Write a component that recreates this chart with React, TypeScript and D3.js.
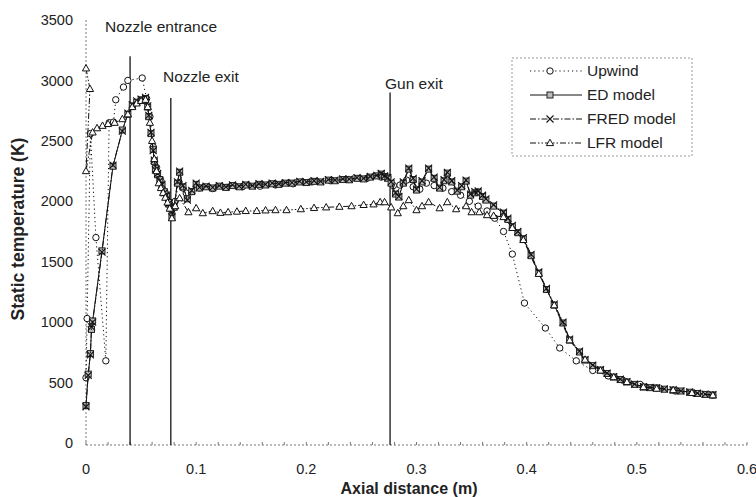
import React from 'react';
import * as d3 from 'd3';

// values: [axial distance (m), static temperature (K)]
const upwind: [number, number][] = [
  [0, 540], [0.001, 1030], [0.004, 2560], [0.009, 1700], [0.018, 680], [0.021, 2650],
  [0.025, 2655], [0.027, 2840], [0.034, 2945], [0.038, 3000], [0.051, 3020], [0.055, 2850],
  [0.058, 2700], [0.061, 2450], [0.064, 2280], [0.068, 2170], [0.072, 2070], [0.076, 1960],
  [0.078, 1930], [0.081, 2000], [0.084, 2150], [0.088, 2110], [0.091, 2068], [0.096, 2080],
  [0.103, 2110], [0.115, 2105], [0.128, 2115], [0.142, 2120], [0.158, 2125], [0.172, 2135],
  [0.188, 2145], [0.205, 2160], [0.222, 2170], [0.238, 2180], [0.255, 2190], [0.268, 2200],
  [0.274, 2200], [0.279, 2130], [0.285, 2134], [0.291, 2175], [0.297, 2120], [0.303, 2100],
  [0.309, 2150], [0.316, 2130], [0.324, 2109], [0.332, 2080], [0.34, 2050], [0.348, 2000],
  [0.356, 1960], [0.364, 1920], [0.371, 1860], [0.379, 1750], [0.387, 1563], [0.398, 1158],
  [0.417, 951], [0.43, 786], [0.445, 680], [0.46, 600], [0.474, 555], [0.487, 521],
  [0.503, 485], [0.518, 455], [0.535, 430], [0.552, 412], [0.569, 397],
];

const edModel: [number, number][] = [
  [0, 310], [0.002, 570], [0.004, 740], [0.005, 940], [0.006, 1010], [0.0145, 1590],
  [0.0245, 2290], [0.033, 2590], [0.038, 2720], [0.042, 2790], [0.046, 2820], [0.05, 2840],
  [0.054, 2850], [0.056, 2780], [0.057, 2700], [0.059, 2560], [0.061, 2430], [0.062, 2330],
  [0.063, 2270], [0.065, 2220], [0.067, 2180], [0.069, 2130], [0.071, 2080], [0.073, 2040],
  [0.075, 1990], [0.077, 1940], [0.078, 1880], [0.08, 1950], [0.083, 2150], [0.085, 2240],
  [0.088, 2120], [0.092, 2020], [0.096, 2080], [0.1, 2140], [0.103, 2110], [0.109, 2120],
  [0.115, 2110], [0.121, 2125], [0.127, 2115], [0.133, 2130], [0.139, 2120], [0.145, 2135],
  [0.151, 2125], [0.157, 2140], [0.163, 2135], [0.169, 2145], [0.175, 2140], [0.181, 2150],
  [0.187, 2150], [0.194, 2160], [0.2, 2155], [0.207, 2165], [0.213, 2160], [0.22, 2175],
  [0.226, 2170], [0.233, 2180], [0.239, 2178], [0.246, 2190], [0.252, 2185], [0.258, 2200],
  [0.264, 2210], [0.268, 2225], [0.271, 2205], [0.274, 2190], [0.277, 2150], [0.281, 2060],
  [0.284, 2035], [0.288, 2150], [0.293, 2266], [0.297, 2180], [0.3, 2093], [0.305, 2160],
  [0.311, 2266], [0.316, 2190], [0.321, 2109], [0.325, 2170], [0.328, 2233], [0.332, 2160],
  [0.337, 2084], [0.341, 2120], [0.345, 2167], [0.349, 2051], [0.353, 2070], [0.356, 2076],
  [0.36, 2040], [0.363, 2010], [0.37, 1960], [0.379, 1902], [0.383, 1850], [0.387, 1790],
  [0.392, 1740], [0.397, 1690], [0.404, 1550], [0.411, 1406], [0.418, 1270], [0.425, 1141],
  [0.433, 993], [0.439, 852], [0.448, 753], [0.453, 686], [0.46, 640], [0.467, 604],
  [0.473, 575], [0.479, 546], [0.485, 525], [0.491, 505], [0.498, 485], [0.506, 463],
  [0.512, 458], [0.518, 455], [0.525, 445], [0.533, 438], [0.54, 430], [0.548, 420],
  [0.555, 410], [0.562, 402], [0.569, 397],
];

const fredModel: [number, number][] = [
  [0, 300], [0.002, 560], [0.004, 730], [0.005, 960], [0.006, 1000], [0.0145, 1580],
  [0.0245, 2300], [0.033, 2580], [0.038, 2730], [0.042, 2800], [0.046, 2830], [0.05, 2845],
  [0.054, 2860], [0.056, 2790], [0.057, 2710], [0.059, 2570], [0.061, 2420], [0.062, 2340],
  [0.063, 2260], [0.065, 2230], [0.067, 2170], [0.069, 2140], [0.071, 2070], [0.073, 2050],
  [0.075, 1980], [0.077, 1950], [0.078, 1870], [0.08, 1960], [0.083, 2160], [0.085, 2250],
  [0.088, 2130], [0.092, 2010], [0.096, 2090], [0.1, 2150], [0.103, 2115], [0.109, 2125],
  [0.115, 2115], [0.121, 2130], [0.127, 2120], [0.133, 2135], [0.139, 2125], [0.145, 2140],
  [0.151, 2130], [0.157, 2145], [0.163, 2140], [0.169, 2150], [0.175, 2145], [0.181, 2155],
  [0.187, 2155], [0.194, 2165], [0.2, 2160], [0.207, 2170], [0.213, 2165], [0.22, 2180],
  [0.226, 2175], [0.233, 2185], [0.239, 2183], [0.246, 2195], [0.252, 2190], [0.258, 2205],
  [0.264, 2215], [0.268, 2230], [0.271, 2210], [0.274, 2195], [0.277, 2160], [0.281, 2070],
  [0.284, 2040], [0.288, 2160], [0.293, 2275], [0.297, 2190], [0.3, 2100], [0.305, 2170],
  [0.311, 2275], [0.316, 2200], [0.321, 2115], [0.325, 2180], [0.328, 2240], [0.332, 2170],
  [0.337, 2090], [0.341, 2130], [0.345, 2175], [0.349, 2060], [0.353, 2080], [0.356, 2085],
  [0.36, 2050], [0.363, 2020], [0.37, 1970], [0.379, 1910], [0.383, 1860], [0.387, 1800],
  [0.392, 1750], [0.397, 1700], [0.404, 1560], [0.411, 1415], [0.418, 1280], [0.425, 1150],
  [0.433, 1000], [0.439, 860], [0.448, 760], [0.453, 690], [0.46, 645], [0.467, 608],
  [0.473, 578], [0.479, 550], [0.485, 528], [0.491, 508], [0.498, 488], [0.506, 466],
  [0.512, 460], [0.518, 457], [0.525, 447], [0.533, 440], [0.54, 432], [0.548, 422],
  [0.555, 412], [0.562, 404], [0.569, 400],
];

const lfrModel: [number, number][] = [
  [0, 3100], [0.0036, 2930], [0, 2250], [0.006, 2570], [0.01, 2605], [0.015, 2625],
  [0.02, 2640], [0.026, 2650], [0.033, 2680], [0.038, 2720], [0.042, 2780], [0.046, 2810],
  [0.05, 2830], [0.054, 2840], [0.056, 2780], [0.058, 2650], [0.06, 2500], [0.062, 2350],
  [0.064, 2250], [0.066, 2150], [0.068, 2110], [0.07, 2070], [0.072, 2030], [0.074, 1990],
  [0.076, 1940], [0.078, 1860], [0.081, 1960], [0.085, 2026], [0.093, 1910], [0.1, 1943],
  [0.106, 1902], [0.115, 1919], [0.122, 1905], [0.129, 1910], [0.137, 1915], [0.145, 1920],
  [0.155, 1920], [0.163, 1925], [0.172, 1927], [0.182, 1927], [0.195, 1935], [0.207, 1945],
  [0.218, 1950], [0.23, 1955], [0.241, 1960], [0.252, 1970], [0.261, 1975], [0.267, 1993],
  [0.271, 1993], [0.277, 1950], [0.283, 1902], [0.288, 1960], [0.293, 2010], [0.3, 1927],
  [0.305, 1960], [0.311, 1993], [0.321, 1943], [0.328, 1993], [0.336, 1935], [0.345, 1960],
  [0.35, 1910], [0.357, 1910], [0.364, 1886], [0.37, 1880], [0.379, 1870], [0.387, 1780],
  [0.397, 1680], [0.411, 1400], [0.425, 1140], [0.439, 850], [0.453, 690], [0.467, 600],
  [0.479, 545], [0.491, 505], [0.506, 463], [0.518, 450], [0.533, 438], [0.55, 415],
  [0.569, 395],
];

const yTicks = [0, 500, 1000, 1500, 2000, 2500, 3000, 3500];
const xTicks = [0, 0.1, 0.2, 0.3, 0.4, 0.5, 0.6];
const markers = [
  { x: 0.04, top: 3200, label: 'Nozzle entrance', lx: 105, ly: 32 },
  { x: 0.077, top: 2855, label: 'Nozzle exit', lx: 163, ly: 82 },
  { x: 0.276, top: 2900, label: 'Gun exit', lx: 385, ly: 89 },
];

const font = 'Liberation Sans, Arial, sans-serif';

function Marker({ kind, x, y }: { kind: string; x: number; y: number }) {
  if (kind === 'circle') return <circle cx={x} cy={y} r={3.2} fill="#fff" stroke="#111" strokeWidth={1} />;
  if (kind === 'square')
    return <rect x={x - 3} y={y - 3} width={6} height={6} fill="#bbb" stroke="#222" strokeWidth={1} />;
  if (kind === 'cross')
    return (
      <path d={`M${x - 3.5},${y - 3.5}L${x + 3.5},${y + 3.5}M${x + 3.5},${y - 3.5}L${x - 3.5},${y + 3.5}`}
        stroke="#111" strokeWidth={1.1} />
    );
  return (
    <path d={`M${x},${y - 3.8}L${x + 3.6},${y + 2.6}L${x - 3.6},${y + 2.6}Z`} fill="#fff" stroke="#111" strokeWidth={1} />
  );
}

export default function App() {
  const x = d3.scaleLinear().domain([0, 0.6]).range([86, 747]);
  const y = d3.scaleLinear().domain([0, 3500]).range([443, 20]);
  const line = d3.line<[number, number]>().x(d => x(d[0])).y(d => y(d[1]));

  const series = [
    { name: 'Upwind', data: upwind, dash: '1.2,3', kind: 'circle' },
    { name: 'ED model', data: edModel, dash: 'none', kind: 'square' },
    { name: 'FRED model', data: fredModel, dash: '6,2,1.5,2', kind: 'cross' },
    { name: 'LFR model', data: lfrModel, dash: '6,2,1.5,2,1.5,2', kind: 'triangle' },
  ];

  return (
    <svg width={756} height={497} style={{ position: 'absolute', left: 0, top: 0, background: '#fff' }}
      fontFamily={font}>
      {/* axes */}
      <line x1={x(0)} x2={x(0)} y1={y(3500)} y2={y(0) + 2} stroke="#777" strokeDasharray="2,2" />
      <line x1={x(0)} x2={x(0.6)} y1={y(0) + 2} y2={y(0) + 2} stroke="#777" strokeDasharray="2,2" />
      {d3.range(0, 0.601, 0.02).map(t => (
        <line key={t} x1={x(t)} x2={x(t)} y1={y(0) + 2} y2={y(0) - 1} stroke="#777" />
      ))}
      {yTicks.map(t => (
        <text key={t} x={73} y={y(t)} dy="0.35em" textAnchor="end" fontSize={14.5} fill="#222">{t}</text>
      ))}
      {xTicks.map(t => (
        <text key={t} x={x(t)} y={474} textAnchor="middle" fontSize={14.5} fill="#222">{t}</text>
      ))}
      <text transform="translate(24,229) rotate(-90)" textAnchor="middle" fontSize={17.5} fontWeight="bold" fill="#222">
        Static temperature (K)
      </text>
      <text x={409} y={494} textAnchor="middle" fontSize={16} fontWeight="bold" fill="#222">Axial distance (m)</text>

      {/* position markers */}
      {markers.map(m => (
        <g key={m.label}>
          <line x1={x(m.x)} x2={x(m.x)} y1={y(m.top)} y2={y(0) + 2} stroke="#000" strokeWidth={1.2} />
          <text x={m.lx} y={m.ly} fontSize={15.5} fill="#222">{m.label}</text>
        </g>
      ))}

      {/* series */}
      {series.map(s => (
        <g key={s.name}>
          <path d={line(s.data) || ''} fill="none" stroke="#111" strokeWidth={1} strokeDasharray={s.dash} />
          {s.data.map((d, i) => <Marker key={i} kind={s.kind} x={x(d[0])} y={y(d[1])} />)}
        </g>
      ))}

      {/* legend */}
      <rect x={512} y={58} width={180} height={98} fill="#fff" stroke="#999" strokeDasharray="2,2" />
      {series.map((s, i) => {
        const ly = 71 + i * 24;
        return (
          <g key={s.name}>
            <line x1={530} x2={582} y1={ly} y2={ly} stroke="#111" strokeDasharray={s.dash} />
            <Marker kind={s.kind} x={550} y={ly} />
            <text x={587} y={ly} dy="0.35em" fontSize={15.5} fill="#222">{s.name}</text>
          </g>
        );
      })}
    </svg>
  );
}
